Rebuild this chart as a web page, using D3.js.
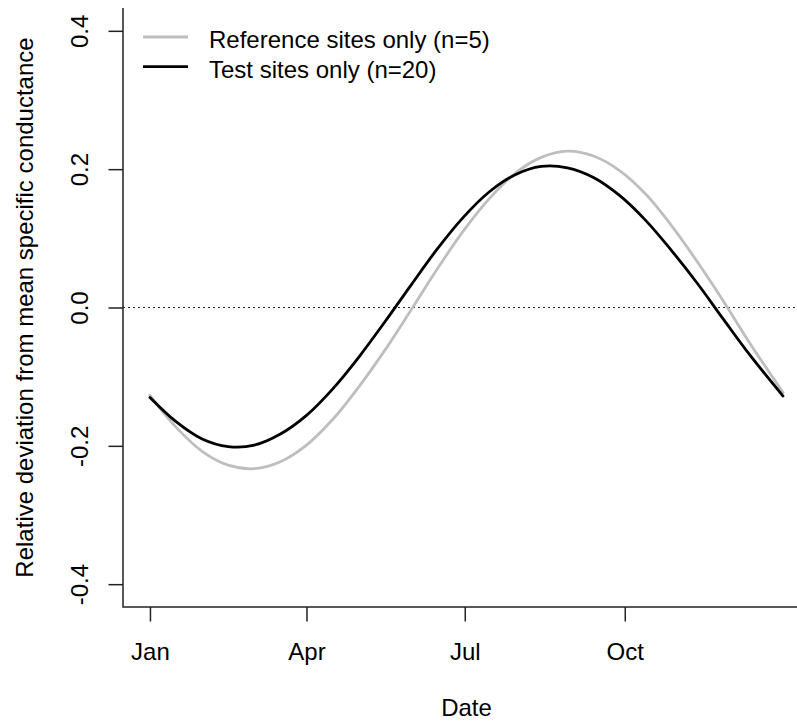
<!DOCTYPE html>
<html>
<head>
<meta charset="utf-8">
<script src="https://cdn.jsdelivr.net/npm/d3@7/dist/d3.min.js"></script>
<style>
  html, body { margin: 0; padding: 0; background: #fff; }
  svg { display: block; }
  text { font-family: "Liberation Sans", Arial, sans-serif; fill: #000; }
</style>
</head>
<body>
<script>
// Day of year (0 = Jan 1) at which each curve value is given
const days = [0, 15, 30, 45, 60, 75, 90, 105, 120, 135, 150, 165, 180,
              195, 210, 225, 240, 255, 270, 285, 300, 315, 330, 345, 364];

// Relative deviation from mean specific conductance, reference sites (n=5)
const referenceValues = [-0.127, -0.173, -0.208, -0.228, -0.233, -0.223, -0.199,
  -0.162, -0.115, -0.062, -0.004, 0.055, 0.110, 0.157, 0.194, 0.217, 0.226,
  0.219, 0.198, 0.164, 0.118, 0.065, 0.008, -0.052, -0.123];

// Relative deviation from mean specific conductance, test sites (n=20)
const testValues = [-0.130, -0.165, -0.190, -0.201, -0.199, -0.183, -0.156,
  -0.118, -0.072, -0.021, 0.032, 0.084, 0.130, 0.167, 0.192, 0.204, 0.202,
  0.188, 0.162, 0.126, 0.082, 0.034, -0.018, -0.069, -0.128];

// Axis ticks
const monthTickDays = [0, 90, 181, 273];
const monthTickLabels = ["Jan", "Apr", "Jul", "Oct"];
const yTicks = [-0.4, -0.2, 0.0, 0.2, 0.4];

const seriesNames = ["Reference sites only (n=5)", "Test sites only (n=20)"];
const seriesColors = ["#bebebe", "#000000"];

const W = 797, H = 721;
const FONT = 24;

const svg = d3.select("body").append("svg")
  .attr("width", W).attr("height", H);

const year0 = Date.UTC(2001, 0, 1);
const toDate = d => new Date(year0 + d * 86400000);

// Plot region (x padded ~15.5 days either side of the year)
const x = d3.scaleUtc()
  .domain([toDate(-15.5), toDate(379.5)])
  .range([123, 810]);
const y = d3.scaleLinear()
  .domain([-0.433, 0.433])
  .range([607, 8]);

const axisColor = "#222";
const fmt1 = d3.format(".1f");

// Left axis
const yAxis = d3.axisLeft(y)
  .tickValues(yTicks)
  .tickSize(14.5)
  .tickFormat(d => fmt1(d).replace("\u2212", "-"));
const gy = svg.append("g").attr("transform", "translate(123,0)").call(yAxis);
gy.select(".domain").remove();
gy.selectAll(".tick line").attr("stroke", axisColor).attr("stroke-width", 1.5);
gy.selectAll(".tick text")
  .attr("font-size", FONT)
  .attr("text-anchor", "middle")
  .attr("x", 0).attr("y", 0).attr("dy", 0)
  .attr("transform", `translate(${88 - 123},0) rotate(-90)`);

// Bottom axis
const xAxis = d3.axisBottom(x)
  .tickValues(monthTickDays.map(toDate))
  .tickSize(14.5)
  .tickFormat((d, i) => monthTickLabels[i]);
const gx = svg.append("g").attr("transform", "translate(0,607)").call(xAxis);
gx.select(".domain").remove();
gx.selectAll(".tick line").attr("stroke", axisColor).attr("stroke-width", 1.5);
gx.selectAll(".tick text")
  .attr("font-size", FONT)
  .attr("y", 53).attr("dy", null);

// L-shaped frame
svg.append("path")
  .attr("d", `M123,8 V607 H${W}`)
  .attr("fill", "none")
  .attr("stroke", axisColor)
  .attr("stroke-width", 1.5);

// Zero reference line
svg.append("line")
  .attr("x1", 123).attr("x2", W)
  .attr("y1", y(0)).attr("y2", y(0))
  .attr("stroke", "#222")
  .attr("stroke-width", 1)
  .attr("stroke-dasharray", "2,3");

// Curves
const line = d3.line()
  .x((d, i) => x(toDate(days[i])))
  .y(d => y(d))
  .curve(d3.curveCatmullRom.alpha(0.5));

[referenceValues, testValues].forEach((vals, k) => {
  svg.append("path")
    .attr("d", line(vals))
    .attr("fill", "none")
    .attr("stroke", seriesColors[k])
    .attr("stroke-width", 2.8)
    .attr("stroke-linecap", "round");
});

// Axis titles
svg.append("text")
  .attr("x", (123 + 810) / 2).attr("y", 716)
  .attr("text-anchor", "middle")
  .attr("font-size", FONT)
  .text("Date");

svg.append("text")
  .attr("transform", `translate(33,${(8 + 607) / 2}) rotate(-90)`)
  .attr("text-anchor", "middle")
  .attr("font-size", FONT)
  .text("Relative deviation from mean specific conductance");

// Legend
const legend = svg.append("g");
seriesNames.forEach((name, k) => {
  const ly = 37 + k * 29.7;
  legend.append("line")
    .attr("x1", 143).attr("x2", 188)
    .attr("y1", ly).attr("y2", ly)
    .attr("stroke", seriesColors[k])
    .attr("stroke-width", 2.8);
  legend.append("text")
    .attr("x", 209).attr("y", ly + 11)
    .attr("font-size", FONT)
    .text(name);
});
</script>
</body>
</html>
